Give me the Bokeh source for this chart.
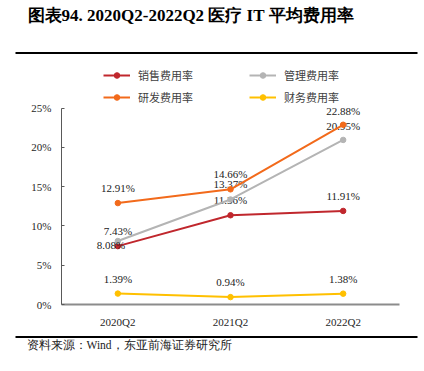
from bokeh.plotting import figure
from bokeh.layouts import column
from bokeh.models import (ColumnDataSource, FactorRange, Range1d, FixedTicker,
                          PrintfTickFormatter, Legend, LegendItem)
from bokeh.core.properties import value
from bokeh.embed import file_html
from bokeh.resources import INLINE

# ---- data ----
quarters = ["2020Q2", "2021Q2", "2022Q2"]
sales_rate = [7.43, 11.36, 11.91]     # 销售费用率
admin_rate = [8.08, 13.37, 20.95]     # 管理费用率
rd_rate = [12.91, 14.66, 22.88]       # 研发费用率
fin_rate = [1.39, 0.94, 1.38]         # 财务费用率
y_ticks = [0, 5, 10, 15, 20, 25]

series_names = ["销售费用率", "管理费用率", "研发费用率", "财务费用率"]
series_values = [sales_rate, admin_rate, rd_rate, fin_rate]
series_colors = ["#C0272D", "#B4B4B4", "#F26A1B", "#FFC000"]
# label offsets (pixels) per point, style only
label_dx = [[0, 0, 0], [-7, 0, 0], [0, 0, 0], [0, 0, 0]]
label_dy = [[-15, -15, -15], [4, -15, -14], [-15, -15, -14], [-15, -15, -15]]

title_text = "图表94.  2020Q2-2022Q2 医疗 IT 平均费用率"
source_text = "资料来源：Wind，东亚前海证券研究所"

SERIF = "Liberation Serif"
CJK = "Noto Sans CJK SC"
W = 424


def deco_fig(h):
    f = figure(width=W, height=h, output_backend="svg", toolbar_location=None,
               x_range=Range1d(0, W), y_range=Range1d(h, 0),
               x_axis_location=None, y_axis_location=None,
               min_border=0, min_border_left=0, min_border_right=0,
               min_border_top=0, min_border_bottom=0, frame_align=False)
    f.outline_line_color = None
    f.xgrid.grid_line_color = None
    f.ygrid.grid_line_color = None
    f.background_fill_color = "white"
    f.border_fill_color = "white"
    return f


# ---- header: title + rule ----
head = deco_fig(56)
head.text(x=[27], y=[14.5], text=[title_text], text_font=value(SERIF),
          text_font_style="bold", text_font_size="17px",
          text_baseline="middle", text_align="left", text_color="#000000")
head.segment(x0=[15], y0=[52.5], x1=[417], y1=[52.5],
             line_color="#000000", line_width=2)

# ---- chart ----
p = figure(width=W, height=274, output_backend="svg", toolbar_location=None,
           x_range=FactorRange(factors=quarters, range_padding=0),
           y_range=Range1d(0, 31.57), frame_align=False,
           min_border_left=61, min_border_right=25, min_border_top=0, min_border_bottom=24)
p.outline_line_color = None
p.background_fill_color = "white"
p.border_fill_color = "white"
p.xgrid.grid_line_color = None
p.ygrid.grid_line_color = None

p.yaxis.bounds = (0, 25)
p.yaxis.ticker = FixedTicker(ticks=y_ticks)
p.yaxis.formatter = PrintfTickFormatter(format="%d%%")
p.yaxis.axis_line_color = "#595959"
p.yaxis.axis_line_width = 1
p.yaxis.major_tick_in = 3
p.yaxis.major_tick_out = 0
p.yaxis.major_tick_line_color = "#595959"
p.yaxis.minor_tick_line_color = None
p.yaxis.major_label_standoff = 10
p.yaxis.major_label_text_font = SERIF
p.yaxis.major_label_text_font_size = "11px"
p.yaxis.major_label_text_color = "#262626"

p.xaxis.axis_line_color = "#8C8C8C"
p.xaxis.axis_line_width = 2
p.xaxis.major_tick_line_color = None
p.xaxis.minor_tick_line_color = None
p.xaxis.major_label_standoff = 5
p.xaxis.major_label_text_font = SERIF
p.xaxis.major_label_text_font_size = "11px"
p.xaxis.major_label_text_color = "#262626"

items = []
for name, vals, col, dx, dy in zip(series_names, series_values, series_colors, label_dx, label_dy):
    src = ColumnDataSource(dict(x=quarters, y=vals,
                                lab=[f"{v:.2f}%" for v in vals], dx=dx, dy=dy))
    ln = p.line("x", "y", source=src, line_color=col, line_width=2)
    sc = p.scatter("x", "y", source=src, size=5.5, fill_color=col, line_color=col)
    p.text("x", "y", text="lab", source=src, x_offset="dx", y_offset="dy",
           text_align="center", text_baseline="middle",
           text_font=value(SERIF), text_font_size="11px", text_color="#222222")
    items.append(LegendItem(label=name, renderers=[ln, sc]))


def make_legend(its, x, y):
    return Legend(items=its, location=(x, y), orientation="vertical",
                  glyph_width=27, glyph_height=14, label_height=14, spacing=6,
                  label_standoff=8, padding=0, margin=0,
                  border_line_color=None, background_fill_alpha=0,
                  label_text_font=CJK, label_text_font_size="11px",
                  label_text_color="#404040")


p.add_layout(make_legend([items[0], items[2]], 42, 199), "center")
p.add_layout(make_legend([items[1], items[3]], 188, 199), "center")

# ---- footer: rule + source ----
foot = deco_fig(41)
foot.segment(x0=[15], y0=[6.5], x1=[417], y1=[6.5], line_color="#000000", line_width=2)
foot.text(x=[26], y=[14.5], text=[source_text], text_font=value(SERIF),
          text_font_size="11.5px", text_baseline="middle", text_align="left",
          text_color="#222222")

layout = column(head, p, foot, spacing=0)
open("out.html", "w").write(file_html(layout, INLINE))
